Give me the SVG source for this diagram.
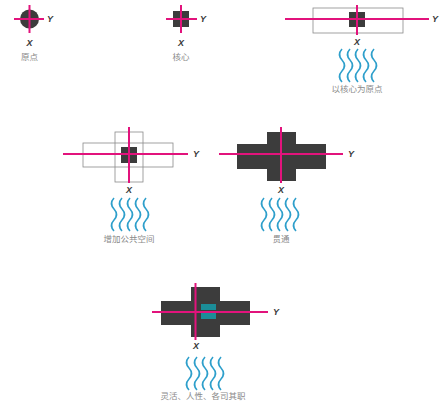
<svg xmlns="http://www.w3.org/2000/svg" width="448" height="403" viewBox="0 0 448 403">
<defs>
<style>
.ax{stroke:#e2137c;stroke-width:2;fill:none}
.dk{fill:#3c3c3c}
.ol{fill:none;stroke:#8a8a8a;stroke-width:0.8}
.xy{font-family:"Liberation Sans",Arial,sans-serif;font-size:9px;font-weight:bold;font-style:italic;fill:#3a3a3a;text-anchor:middle}
.lb{font-family:"Liberation Sans","Noto Sans CJK SC",sans-serif;font-size:8.5px;fill:#8a8a8a;text-anchor:middle}
.wv{fill:none;stroke:#2e9fcb;stroke-width:1.6}
</style>
<g id="wave">
<path class="wv" d="M0,0 q-5,5.5 0,11 t0,11 t0,11"/>
<path class="wv" d="M8,0 q-5,5.5 0,11 t0,11 t0,11"/>
<path class="wv" d="M16,0 q-5,5.5 0,11 t0,11 t0,11"/>
<path class="wv" d="M24,0 q-5,5.5 0,11 t0,11 t0,11"/>
<path class="wv" d="M32,0 q-5,5.5 0,11 t0,11 t0,11"/>
</g>
</defs>
<rect width="448" height="403" fill="#ffffff"/>

<g id="node-origin">
<circle class="dk" cx="29.5" cy="19" r="9.5"/>
<line class="ax" x1="14" y1="19" x2="44" y2="19"/>
<line class="ax" x1="29.5" y1="5" x2="29.5" y2="33"/>
<text class="xy" x="50" y="22">Y</text>
<text class="xy" x="29.5" y="46">X</text>
<text class="lb" x="29.5" y="60">原点</text>
</g>

<g id="node-core">
<rect class="dk" x="173" y="11" width="16" height="16"/>
<line class="ax" x1="166" y1="19" x2="197" y2="19"/>
<line class="ax" x1="181" y1="5" x2="181" y2="33"/>
<text class="xy" x="203" y="22">Y</text>
<text class="xy" x="181" y="46">X</text>
<text class="lb" x="181" y="60">核心</text>
</g>

<g id="node-core-origin">
<rect class="ol" x="313" y="8" width="90" height="25"/>
<rect class="dk" x="349" y="12" width="16" height="15"/>
<line class="ax" x1="285" y1="19" x2="429" y2="19"/>
<line class="ax" x1="357" y1="5" x2="357" y2="35"/>
<text class="xy" x="435" y="22">Y</text>
<text class="xy" x="357" y="45">X</text>
<use href="#wave" x="342" y="49"/>
<text class="lb" x="357" y="92">以核心为原点</text>
</g>

<g id="node-public">
<rect class="ol" x="83" y="143" width="90" height="24"/>
<rect class="ol" x="115" y="132" width="28" height="50"/>
<rect class="dk" x="121" y="147" width="16" height="16"/>
<line class="ax" x1="63" y1="154" x2="188" y2="154"/>
<line class="ax" x1="129" y1="127" x2="129" y2="183"/>
<text class="xy" x="196" y="157">Y</text>
<text class="xy" x="129" y="193">X</text>
<use href="#wave" x="114" y="198"/>
<text class="lb" x="129" y="242">增加公共空间</text>
</g>

<g id="node-through">
<rect class="dk" x="237" y="144" width="89" height="25"/>
<rect class="dk" x="267" y="132" width="29" height="49"/>
<line class="ax" x1="219" y1="154" x2="343" y2="154"/>
<line class="ax" x1="281" y1="127" x2="281" y2="183"/>
<text class="xy" x="351" y="157">Y</text>
<text class="xy" x="281" y="193">X</text>
<use href="#wave" x="264" y="198"/>
<text class="lb" x="281" y="242">贯通</text>
</g>

<g id="node-flexible">
<rect class="dk" x="161" y="301" width="89" height="24"/>
<rect class="dk" x="191" y="287" width="29" height="50"/>
<line class="ax" x1="152" y1="312" x2="268" y2="312"/>
<line class="ax" x1="195.5" y1="283" x2="195.5" y2="340"/>
<rect x="201" y="304" width="15" height="6" fill="#1b8d98"/>
<rect x="201" y="313" width="15" height="6" fill="#1b8d98"/>
<text class="xy" x="276" y="315">Y</text>
<text class="xy" x="196" y="349">X</text>
<use href="#wave" x="189" y="357"/>
<text class="lb" x="203" y="399">灵活、人性、各司其职</text>
</g>
</svg>
